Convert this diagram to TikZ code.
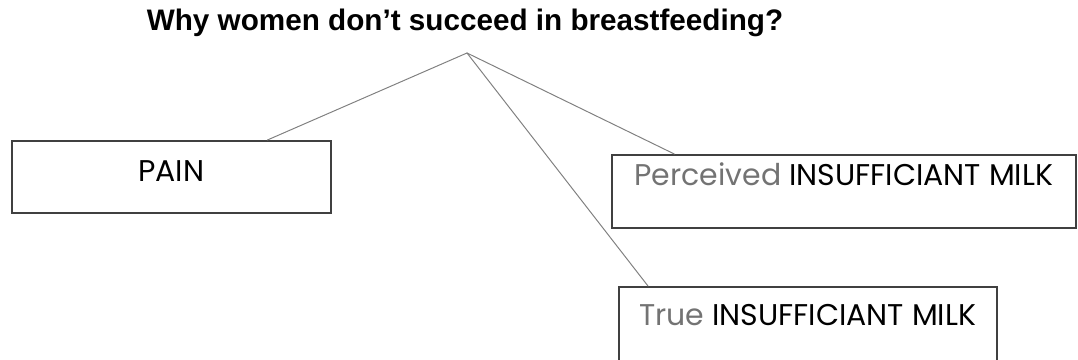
\documentclass[tikz,border=0pt]{standalone}
\usepackage{fontspec}
\setmainfont{Poppins}
\newfontfamily\titlefont{Liberation Sans}
\usetikzlibrary{calc}

\begin{document}
\begin{tikzpicture}[x=0.025cm,y=-0.025cm,line cap=round]
  \tikzset{
    reason/.style={draw=boxline, line width=1.1pt, inner sep=0pt, align=center,
      font=\fontsize{21.3}{24}\selectfont},
    branch/.style={draw=branchgray, line width=0.7pt},
    heading/.style={font=\titlefont\bfseries\fontsize{21.1}{24}\selectfont}
  }
  \colorlet{boxline}{black!75}
  \colorlet{branchgray}{black!50}
  \colorlet{softgray}{black!55}

  \useasboundingbox (0,0) rectangle (1078,360);

  % Question
  \node[heading] (question) at (465,23) {Why women don’t succeed in breastfeeding?};
  \coordinate (apex) at (467,53);

  % Reasons
  \node[reason, anchor=north west, minimum width=319*0.025cm,
    text height=41*0.025cm, text depth=31*0.025cm] (pain) at (11,140) {PAIN};
  \node[reason, anchor=north west, minimum width=464*0.025cm,
    text height=31*0.025cm, text depth=42*0.025cm] (perceived) at (611,154)
    {\textcolor{softgray}{Perceived} INSUFFICIANT MILK};
  \node[reason, anchor=north west, minimum width=378*0.025cm,
    text height=39*0.025cm, text depth=38*0.025cm] (true) at (618,286)
    {\textcolor{softgray}{True} INSUFFICIANT MILK};

  % Branches
  \draw[branch] (apex) -- ($(pain.north west)!0.8!(pain.north east)$);
  \draw[branch] (apex) -- ($(perceived.north west)!0.136!(perceived.north east)$);
  \draw[branch] (apex) -- ($(true.north west)!0.079!(true.north east)$);
\end{tikzpicture}
\end{document}
